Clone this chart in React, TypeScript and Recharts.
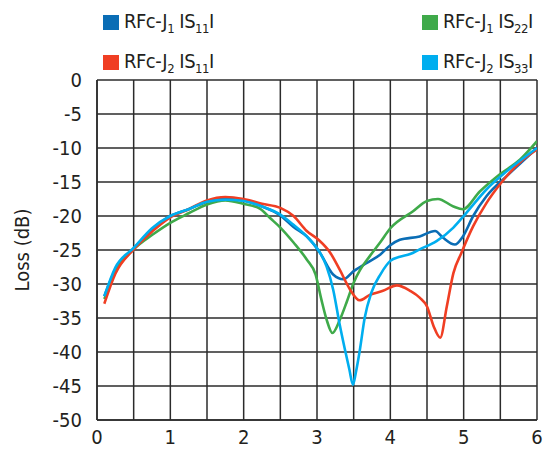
import React from 'react';
import { LineChart, Line, XAxis, YAxis, CartesianGrid } from 'recharts';

// frequency (GHz) / loss (dB) pairs
const j1S11: [number, number][] = [
  [0.1, -31.8], [0.25, -27.9], [0.5, -24.8], [0.75, -22], [1, -20], [1.25, -19], [1.5, -17.9],
  [1.75, -17.3], [2, -17.7], [2.25, -18.6], [2.5, -19.9], [2.68, -21.6], [2.86, -23], [3.04, -25.4],
  [3.22, -28.6], [3.36, -29.3], [3.5, -28.1], [3.68, -26.9], [3.86, -25.7], [4, -24.3], [4.13, -23.5],
  [4.4, -23], [4.61, -22.2], [4.72, -23.2], [4.88, -24.2], [4.99, -23], [5.13, -20], [5.31, -17.1],
  [5.59, -14.1], [5.8, -12], [6, -10],
];
const j1S22: [number, number][] = [
  [0.1, -32.2], [0.25, -28.2], [0.5, -24.9], [0.75, -22.8], [1, -21], [1.25, -19.6], [1.5, -18.3],
  [1.75, -17.7], [2, -18.2], [2.22, -18.9], [2.36, -20.3], [2.5, -21.7], [2.68, -23.9], [2.86, -26.4],
  [2.98, -28.6], [3.06, -32.3], [3.13, -35.2], [3.21, -37.2], [3.31, -35.3], [3.41, -32.5], [3.5, -29.8],
  [3.59, -27.9], [3.72, -25.9], [3.86, -23.9], [4, -21.8], [4.31, -19.3], [4.5, -17.8], [4.65, -17.5],
  [4.86, -18.6], [4.99, -19], [5.22, -16.4], [5.49, -13.9], [5.77, -11.7], [6, -9],
];
const j2S11: [number, number][] = [
  [0.1, -32.9], [0.25, -28.5], [0.5, -24.9], [0.75, -22.3], [1, -20.2], [1.25, -19], [1.5, -17.7],
  [1.75, -17.2], [2, -17.5], [2.25, -18.2], [2.5, -18.8], [2.68, -20], [2.86, -22.2], [3.02, -23.5],
  [3.18, -25.4], [3.31, -27.9], [3.45, -30.8], [3.58, -32.4], [3.72, -31.6], [3.9, -31], [4.09, -30.2],
  [4.27, -31], [4.4, -32], [4.5, -33.3], [4.59, -36.2], [4.68, -37.9], [4.77, -33.3], [4.86, -28.4],
  [4.97, -25.4], [5.13, -21.5], [5.31, -18.1], [5.49, -15.4], [5.81, -11.7], [6, -10.2],
];
const j2S33: [number, number][] = [
  [0.1, -31.8], [0.25, -27.6], [0.5, -24.7], [0.75, -21.8], [1, -20], [1.25, -19], [1.5, -17.9],
  [1.75, -17.6], [2, -17.8], [2.25, -18.6], [2.5, -19.8], [2.68, -21.3], [2.86, -23], [3.04, -25.4],
  [3.13, -27.4], [3.22, -30.8], [3.31, -36], [3.38, -39.6], [3.44, -42.5], [3.49, -44.8], [3.53, -43],
  [3.58, -40], [3.65, -35], [3.74, -31.3], [3.87, -28.5], [4, -26.6], [4.13, -26], [4.27, -25.6],
  [4.4, -24.9], [4.63, -23.7], [4.86, -21.7], [5.04, -19.5], [5.31, -16.1], [5.59, -13.4], [6, -10],
];

const xTicks = [0, 0.5, 1, 1.5, 2, 2.5, 3, 3.5, 4, 4.5, 5, 5.5, 6];
const yTicks = [0, -5, -10, -15, -20, -25, -30, -35, -40, -45, -50];

const series = [
  { key: 'j1s11', pts: j1S11, color: '#0a6db5', j: '1', s: '11' },
  { key: 'j1s22', pts: j1S22, color: '#3faa4a', j: '1', s: '22' },
  { key: 'j2s11', pts: j2S11, color: '#f03e23', j: '2', s: '11' },
  { key: 'j2s33', pts: j2S33, color: '#00aeef', j: '2', s: '33' },
];

const FONT = "'DejaVu Sans Condensed', 'Liberation Sans Narrow', Arial, sans-serif";
const TEXT = '#231f20';
const GRID = '#2b2b2b';

const legendPos = [
  { left: 103, top: 9 },
  { left: 422, top: 9 },
  { left: 103, top: 49 },
  { left: 422, top: 49 },
];

const LegendItem = ({ color, j, s }: { color: string; j: string; s: string }) => (
  <div style={{ display: 'flex', alignItems: 'center' }}>
    <span style={{ width: 16, height: 15, background: color, marginRight: 5, display: 'inline-block' }} />
    <span style={{ fontSize: 20, color: TEXT, whiteSpace: 'nowrap', letterSpacing: -0.5 }}>
      RFc-J<sub style={{ fontSize: 13 }}>{j}</sub> IS<sub style={{ fontSize: 13 }}>{s}</sub>I
    </span>
  </div>
);

export default function App() {
  return (
    <div style={{ position: 'absolute', left: 0, top: 0, width: 544, height: 451, background: '#fff', fontFamily: FONT }}>
      <LineChart width={544} height={451} margin={{ top: 80, right: 7, bottom: 1, left: 0 }}>
        <CartesianGrid stroke={GRID} strokeWidth={1.5} />
        <XAxis
          type="number"
          dataKey="x"
          domain={[0, 6]}
          ticks={xTicks}
          interval={0}
          height={30}
          tickFormatter={(v: number) => (Number.isInteger(v) ? String(v) : '')}
          axisLine={{ stroke: GRID, strokeWidth: 1.5 }}
          tickLine={false}
          tickSize={0}
          tickMargin={10}
          tick={{ fill: TEXT, fontSize: 20, fontFamily: FONT }}
          allowDataOverflow
        />
        <YAxis
          type="number"
          domain={[-50, 0]}
          ticks={yTicks}
          interval={0}
          width={97}
          axisLine={{ stroke: GRID, strokeWidth: 1.5 }}
          tickLine={false}
          tickSize={0}
          tickMargin={15}
          tick={{ fill: TEXT, fontSize: 20, fontFamily: FONT }}
          label={{
            value: 'Loss (dB)',
            angle: -90,
            position: 'insideLeft',
            offset: 22,
            style: { fill: TEXT, fontSize: 20, fontFamily: FONT, textAnchor: 'middle' },
          }}
        />
        {series.map((d) => (
          <Line
            key={d.key}
            data={d.pts.map(([x, y]) => ({ x, y }))}
            dataKey="y"
            type="monotone"
            stroke={d.color}
            strokeWidth={2.6}
            dot={false}
            isAnimationActive={false}
          />
        ))}
      </LineChart>
      {series.map((d, i) => (
        <div key={d.key} style={{ position: 'absolute', ...legendPos[i] }}>
          <LegendItem color={d.color} j={d.j} s={d.s} />
        </div>
      ))}
    </div>
  );
}
